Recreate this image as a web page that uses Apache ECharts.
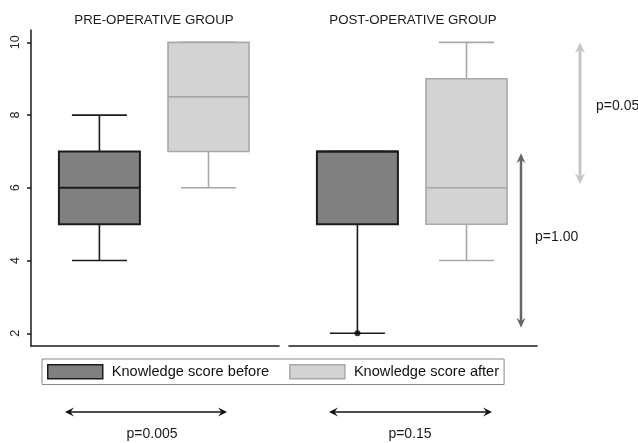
<!DOCTYPE html>
<html><head><meta charset="utf-8">
<script src="https://cdn.jsdelivr.net/npm/echarts@6/dist/echarts.min.js"></script>
<style>html,body{margin:0;padding:0;background:#fff}#c{width:638px;height:443px}</style>
</head><body><div id="c"></div>
<script>
// ---- data ----
const groupTitles = ['PRE-OPERATIVE GROUP', 'POST-OPERATIVE GROUP'];
const seriesNames = ['Knowledge score before', 'Knowledge score after'];
// [min, Q1, median, Q3, max] per group (pre, post)
const scoreBefore = [[4, 5, 6, 7, 8], [2, 5, 7, 7, 7]];
const scoreAfter = [[6, 7, 8.5, 10, 10], [4, 5, 6, 9, 10]];
const outliersBefore = [[], [2]];
const yTicks = [2, 4, 6, 8, 10];
const withinGroupP = ['p=0.005', 'p=0.15'];
const betweenGroupP = ['p=0.05', 'p=1.00'];          // after scores, before scores
const betweenGroupRange = [[6.1, 10], [2.15, 6.95]];

// ---- layout / style ----
const FONT = "'Liberation Sans', Arial, sans-serif";
const styles = [
  { fill: '#808080', stroke: '#1c1c1c', boxLW: 2, whiskerLW: 1.6, medLW: 2 },
  { fill: '#d3d3d3', stroke: '#a8a8a8', boxLW: 1.6, whiskerLW: 1.6, medLW: 1.6 }
];
const BOX_W = 81, CAP_W = 55;
const X_MIN = 0.373, X_MAX = 2.646, Y_MIN = 1.65, Y_MAX = 10.34;

function makeRender(st) {
  return function (params, api) {
    const x = api.value(0);
    const p = i => api.coord([x, api.value(i)]);
    const lo = p(1), q1 = p(2), md = p(3), q3 = p(4), hi = p(5);
    const cx = lo[0];
    const line = (x1, y1, x2, y2, lw) => ({ type: 'line', shape: { x1, y1, x2, y2 }, style: { stroke: st.stroke, lineWidth: lw } });
    return { type: 'group', children: [
      line(cx, q1[1], cx, lo[1], st.whiskerLW),
      line(cx - CAP_W / 2, lo[1], cx + CAP_W / 2, lo[1], st.whiskerLW),
      line(cx, q3[1], cx, hi[1], st.whiskerLW),
      line(cx - CAP_W / 2, hi[1], cx + CAP_W / 2, hi[1], st.whiskerLW),
      { type: 'rect', shape: { x: cx - BOX_W / 2, y: q3[1], width: BOX_W, height: q1[1] - q3[1] },
        style: { fill: st.fill, stroke: st.stroke, lineWidth: st.boxLW } },
      line(cx - BOX_W / 2, md[1], cx + BOX_W / 2, md[1], st.medLW)
    ] };
  };
}

const grids = [
  { left: 31, top: 30, width: 248, height: 316 },
  { left: 289, top: 30, width: 248, height: 316 }
];
const axisLineStyle = { color: '#1a1a1a', width: 1.5 };
const xAxes = [0, 1].map(g => ({
  type: 'value', gridIndex: g, min: X_MIN, max: X_MAX,
  axisLine: { show: true, onZero: false, lineStyle: axisLineStyle },
  axisTick: { show: false }, axisLabel: { show: false }, splitLine: { show: false }
}));
const yAxes = [0, 1].map(g => ({
  type: 'value', gridIndex: g, min: Y_MIN, max: Y_MAX, show: g === 0,
  axisLine: { show: true, onZero: false, lineStyle: axisLineStyle },
  axisTick: { show: true, length: 4, customValues: yTicks, lineStyle: axisLineStyle },
  axisLabel: { show: true, customValues: yTicks, rotate: 90, margin: 9, fontSize: 12.5, color: '#222', fontFamily: FONT },
  splitLine: { show: false }
}));

const series = [];
[0, 1].forEach(g => {
  series.push({
    type: 'custom', name: seriesNames[0], xAxisIndex: g, yAxisIndex: g,
    renderItem: makeRender(styles[0]), encode: { x: 0, y: [1, 2, 3, 4, 5] },
    itemStyle: { color: styles[0].fill, borderColor: styles[0].stroke },
    data: [[1].concat(scoreBefore[g])], silent: true
  });
  series.push({
    type: 'custom', name: seriesNames[1], xAxisIndex: g, yAxisIndex: g,
    renderItem: makeRender(styles[1]), encode: { x: 0, y: [1, 2, 3, 4, 5] },
    itemStyle: { color: styles[1].fill, borderColor: styles[1].stroke },
    data: [[2].concat(scoreAfter[g])], silent: true
  });
  series.push({
    type: 'scatter', name: 'outlier', xAxisIndex: g, yAxisIndex: g,
    symbolSize: 6, itemStyle: { color: '#000' }, silent: true,
    data: outliersBefore[g].map(v => [1, v])
  });
});

const option = {
  backgroundColor: '#ffffff',
  animation: false,
  grid: grids, xAxis: xAxes, yAxis: yAxes, series: series,
  legend: {
    left: 42, top: 359, itemWidth: 55, itemHeight: 14, itemGap: 20,
    borderColor: '#888', borderWidth: 1, padding: [5, 5, 5, 5],
    selectedMode: false, icon: 'rect',
    textStyle: { fontSize: 14.6, color: '#111', fontFamily: FONT, padding: [0, 0, 0, 4] },
    data: seriesNames.map((n, i) => ({ name: n, itemStyle: { color: styles[i].fill, borderColor: styles[i].stroke, borderWidth: 1.5 } }))
  }
};

const chart = echarts.init(document.getElementById('c'), null, { renderer: 'canvas' });
chart.setOption(option);

// ---- annotations ----
const yPix = v => chart.convertToPixel({ yAxisIndex: 1 }, v);
function vArrow(x, vLow, vHigh, color, lw, hw, hl) {
  const yb = yPix(vLow), yt = yPix(vHigh);
  return [
    { type: 'line', shape: { x1: x, y1: yt + hl * 0.6, x2: x, y2: yb - hl * 0.6 }, style: { stroke: color, lineWidth: lw } },
    { type: 'polygon', shape: { points: [[x, yt], [x - hw, yt + hl], [x, yt + hl * 0.65], [x + hw, yt + hl]] }, style: { fill: color } },
    { type: 'polygon', shape: { points: [[x, yb], [x - hw, yb - hl], [x, yb - hl * 0.65], [x + hw, yb - hl]] }, style: { fill: color } }
  ];
}
function hArrow(x1, x2, y) {
  const c = '#111', hw = 4.5, hl = 9;
  return [
    { type: 'line', shape: { x1: x1 + 3, y1: y, x2: x2 - 3, y2: y }, style: { stroke: c, lineWidth: 1.5 } },
    { type: 'polygon', shape: { points: [[x1, y], [x1 + hl, y - hw], [x1 + hl * 0.6, y], [x1 + hl, y + hw]] }, style: { fill: c } },
    { type: 'polygon', shape: { points: [[x2, y], [x2 - hl, y - hw], [x2 - hl * 0.6, y], [x2 - hl, y + hw]] }, style: { fill: c } }
  ];
}
const txt = (text, x, y, size, align) => ({ type: 'text', style: { text, x, y, fontSize: size, fontFamily: FONT, fill: '#1a1a1a', align, verticalAlign: 'middle' } });

const graphic = [].concat(
  txt(groupTitles[0], 154, 20, 13.3, 'center'),
  txt(groupTitles[1], 413, 20, 13.3, 'center'),
  vArrow(580, betweenGroupRange[0][0], betweenGroupRange[0][1], '#c6c6c6', 3, 5, 11),
  vArrow(521, betweenGroupRange[1][0], betweenGroupRange[1][1], '#666666', 2.5, 4.5, 10),
  txt(betweenGroupP[0], 596, 106, 14, 'left'),
  txt(betweenGroupP[1], 535, 237, 14, 'left'),
  hArrow(65, 227, 412),
  hArrow(329, 492, 412),
  txt(withinGroupP[0], 152, 434, 14, 'center'),
  txt(withinGroupP[1], 410, 434, 14, 'center')
);
chart.setOption({ graphic: graphic });
</script>
</body></html>
